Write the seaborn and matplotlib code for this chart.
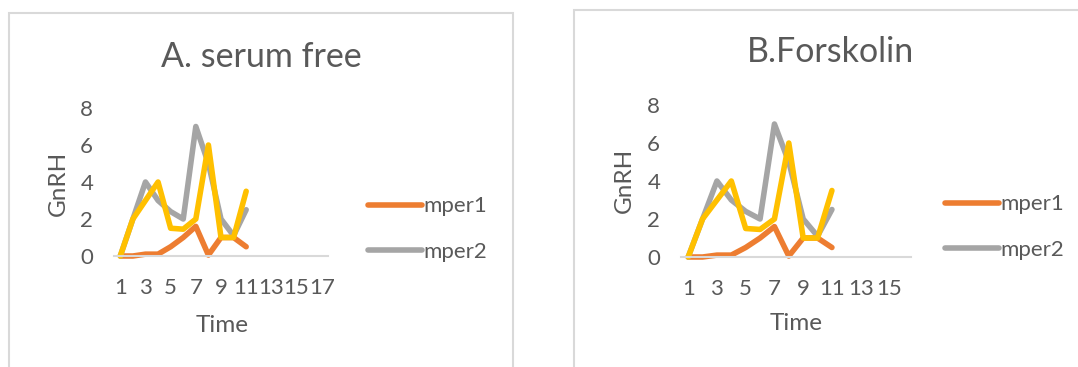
import matplotlib
matplotlib.use("Agg")
import matplotlib.pyplot as plt
from matplotlib.patches import Rectangle
import seaborn as sns
import pandas as pd

# GnRH readings per time point for each clock gene
time_points = list(range(1, 12))
mper1 = [0.0, 0.0, 0.1, 0.1, 0.5, 1.0, 1.6, 0.05, 1.0, 1.0, 0.5]
mper2 = [0.0, 2.0, 4.0, 3.0, 2.4, 2.0, 7.0, 5.0, 2.0, 1.1, 2.5]
mper3 = [0.0, 2.0, 3.0, 4.0, 1.5, 1.45, 2.0, 6.0, 1.0, 1.0, 3.5]

series_names = ["mper1", "mper2", "mper3"]
series_colors = ["#ED7D31", "#A5A5A5", "#FFC000"]

panel_titles = ["A. serum free", "B.Forskolin"]
panel_categories = [17, 16]
y_ticks = [0, 2, 4, 6, 8]

df = pd.DataFrame({
    "Time": time_points * 3,
    "GnRH": mper1 + mper2 + mper3,
    "series": [n for n in series_names for _ in time_points],
})

sns.set_theme(style="white")
plt.rcParams["font.family"] = ["Lato", "DejaVu Sans"]
TXT = "#595959"

W, H = 1078, 367
fig = plt.figure(figsize=(W / 100, H / 100), dpi=100)


def fx(px):
    return px / W


def fy(py):
    return 1 - py / H


# pixel layout of each chart area: (axes box, title, ylabel, xlabel, legend)
panels = [
    dict(box=(114, 328, 108, 256), title=(261, 57), ylab=(58, 183), xlab=(222, 325),
         leg=(368, 205), frame=(8.5, 13, 513, 400)),
    dict(box=(681, 911, 105, 257), title=(831, 52), ylab=(624, 180), xlab=(796, 323),
         leg=(945, 203), frame=(574, 10, 1100, 400)),
]

for i, p in enumerate(panels):
    # chart-area frame
    x0, y0, x1, y1 = p["frame"]
    fig.patches.append(Rectangle((fx(x0), fy(y1)), fx(x1) - fx(x0), fy(y0) - fy(y1),
                                 transform=fig.transFigure, fill=False,
                                 edgecolor="#D9D9D9", linewidth=1.5, zorder=0))

    l, r, t, b = p["box"]
    ax = fig.add_axes([fx(l), fy(b), fx(r) - fx(l), fy(t) - fy(b)])
    sns.lineplot(data=df, x="Time", y="GnRH", hue="series", hue_order=series_names,
                 palette=series_colors, linewidth=4.0, ax=ax, legend=True,
                 solid_capstyle="round", solid_joinstyle="round")
    n = panel_categories[i]
    ax.set_xlim(0.5, n + 0.5)
    ax.set_ylim(0, 8)
    ax.set_xticks(list(range(1, n + 1, 2)))
    ax.set_xticklabels([str(v) for v in range(1, n + 1, 2)])
    ax.set_yticks(y_ticks)
    ax.tick_params(axis="both", length=0, labelsize=16, colors=TXT)
    ax.tick_params(axis="x", pad=16)
    ax.tick_params(axis="y", pad=15)
    for s in ["top", "right", "left"]:
        ax.spines[s].set_visible(False)
    ax.spines["bottom"].set_color("#D9D9D9")
    ax.spines["bottom"].set_linewidth(1.5)
    ax.set_xlabel("")
    ax.set_ylabel("")
    ax.patch.set_alpha(0)
    for line in ax.lines:
        line.set_clip_on(False)

    handles, labels = ax.get_legend_handles_labels()
    ax.get_legend().remove()
    lx, ly = p["leg"]
    fig.legend(handles[:2], labels[:2], loc="upper left",
               bbox_to_anchor=(fx(lx), fy(ly - 8.5)), frameon=False,
               fontsize=16, labelcolor=TXT, handlelength=2.45, handletextpad=0.05,
               labelspacing=1.14, borderpad=0, borderaxespad=0)

    fig.text(fx(p["title"][0]), fy(p["title"][1]), panel_titles[i], ha="center",
             va="center", fontsize=24.5, color=TXT)
    fig.text(fx(p["ylab"][0]), fy(p["ylab"][1]), "GnRH", ha="center", va="center",
             rotation=90, fontsize=17.5, color=TXT)
    fig.text(fx(p["xlab"][0]), fy(p["xlab"][1]), "Time", ha="center", va="center",
             fontsize=17.5, color=TXT)

fig.savefig("out.png", dpi=100, facecolor="white")
